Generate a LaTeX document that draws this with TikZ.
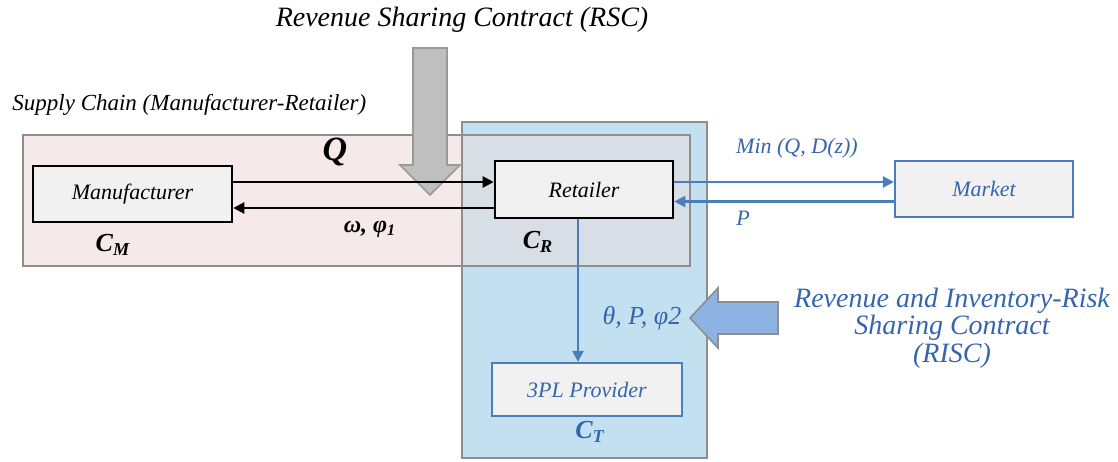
\documentclass[tikz,border=0pt]{standalone}
\usepackage{fontspec}
\setmainfont{Liberation Serif}
\usetikzlibrary{arrows.meta,positioning}
\definecolor{pinkbg}{HTML}{F6E9E9}
\definecolor{bluebg}{HTML}{C3E0F1}
\definecolor{mixbg}{HTML}{D7DEE6}
\definecolor{boxgray}{HTML}{F1F1F1}
\definecolor{frame}{HTML}{8E8E8E}
\definecolor{lineblue}{HTML}{4A7EBB}
\definecolor{txtblue}{HTML}{3565AD}
\definecolor{arrblue}{HTML}{8DB3E2}
\definecolor{arrgray}{HTML}{BFBFBF}

\begin{document}
\begin{tikzpicture}[x=0.5pt,y=-0.5pt,font=\itshape\fontsize{11}{13}\selectfont,
  box/.style={draw,line width=1.3pt,fill=boxgray,inner sep=0pt},
  bbox/.style={box,draw=lineblue,line width=1.1pt,text=txtblue},
  lbl/.style={inner sep=1pt},
  blbl/.style={lbl,text=txtblue},
  tip/.style={-{Triangle[length=5.5pt,width=5.5pt]}}]
\useasboundingbox (0,0) rectangle (1118,461);
% regions
\fill[bluebg] (462,122) rectangle (707,458);
\fill[pinkbg] (23,135) rectangle (690,266);
\fill[mixbg] (462,135) rectangle (690,266);
\draw[frame,line width=1pt] (462,122) rectangle (707,458);
\draw[frame,line width=1pt] (23,135) rectangle (690,266);
% contract arrows
\draw[draw=arrgray!80!black,fill=arrgray,line width=.8pt]
  (413,48) -- (447,48) -- (447,165) -- (460,165) -- (430,195) -- (400,165) -- (413,165) -- cycle;
\draw[draw=frame,fill=arrblue,line width=.8pt]
  (778,302) -- (718,302) -- (718,288) -- (690,318) -- (718,348) -- (718,334) -- (778,334) -- cycle;
% boxes
\node[box,minimum width=99.5pt,minimum height=28pt] (man) at (132.5,194) {Manufacturer};
\node[box,minimum width=89pt,minimum height=28.5pt] (ret) at (584,189.5) {Retailer};
\node[bbox,minimum width=89pt,minimum height=28pt] (mkt) at (984,189) {Market};
\node[bbox,minimum width=95pt,minimum height=26.5pt] (tpl) at (587,389.5) {3PL Provider};
% flows
\draw[tip,line width=1.2pt] ([yshift=6pt]man.east) -- ([yshift=6pt]man.east -| ret.west);
\draw[tip,line width=1.2pt] ([yshift=-7pt]man.east -| ret.west) -- ([yshift=-7pt]man.east);
\draw[tip,lineblue,line width=1.1pt] ([yshift=3.75pt]ret.east) -- ([yshift=3.75pt]ret.east -| mkt.west);
\draw[tip,lineblue,line width=1.1pt] ([yshift=-6.25pt]mkt.west) -- ([yshift=-6.25pt]mkt.west -| ret.east);
\draw[tip,lineblue,line width=1.1pt] ([xshift=-3pt]ret.south) -- ([xshift=-3pt]ret.south |- tpl.north);
% labels
\node[lbl,font=\itshape\fontsize{14}{16}\selectfont] (rsc) at (462,20) {Revenue Sharing Contract (RSC)};
\node[lbl,anchor=west,font=\itshape\fontsize{11.5}{13}\selectfont] (sc) at (10,105) {Supply Chain (Manufacturer-Retailer)};
\node[lbl,font=\bfseries\itshape\fontsize{17}{19}\selectfont] (q) at (335,152) {Q};
\node[lbl,font=\bfseries\itshape\fontsize{12}{14}\selectfont] (wp) at (370,229) {ω, φ\textsubscript{1}};
\node[lbl,font=\bfseries\itshape\fontsize{13}{15}\selectfont] (cm) at (113,245) {C\textsubscript{M}};
\node[lbl,font=\bfseries\itshape\fontsize{13}{15}\selectfont] (cr) at (538,242) {C\textsubscript{R}};
\node[blbl,font=\bfseries\itshape\fontsize{13}{15}\selectfont] (ct) at (590,432) {C\textsubscript{T}};
\node[blbl] (mq) at (797,148) {Min (Q, D(z))};
\node[blbl] (p) at (743,218) {P};
\node[blbl,font=\itshape\fontsize{13}{15}\selectfont] (tp) at (642,318) {θ, P, φ2};
\node[blbl,align=center,font=\itshape\fontsize{14}{12.5}\selectfont] (risc) at (952,328)
  {Revenue and Inventory-Risk\\Sharing Contract\\(RISC)};
\end{tikzpicture}
\end{document}
